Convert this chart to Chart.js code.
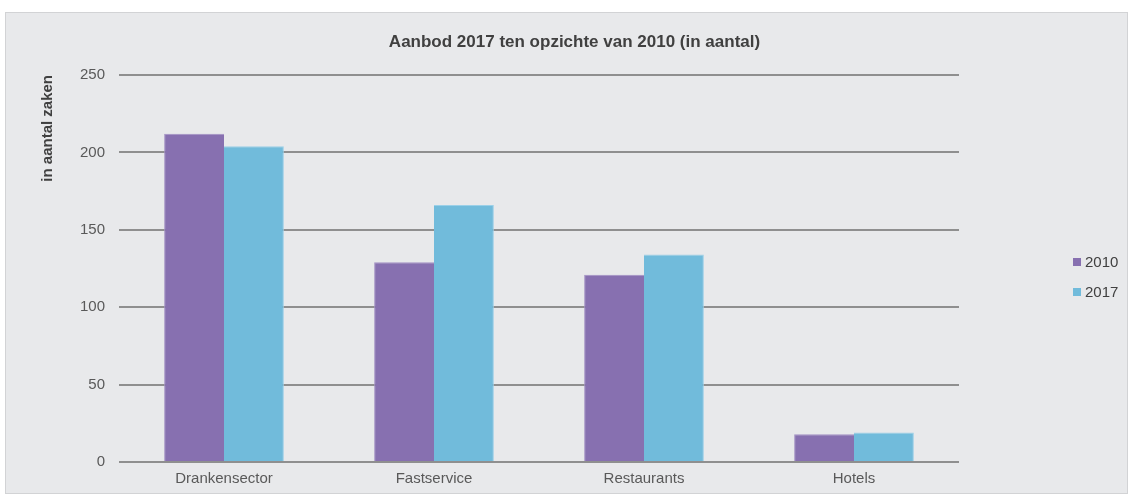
<!DOCTYPE html>
<html>
<head>
<meta charset="utf-8">
<script src="https://cdn.jsdelivr.net/npm/chart.js@4/dist/chart.umd.min.js"></script>
<style>
  html, body { margin: 0; padding: 0; background: #ffffff; }
  body { width: 1128px; height: 494px; position: relative; overflow: hidden; }
  #frame {
    position: absolute; left: 5px; top: 12px; width: 1121px; height: 480px;
    background: #e8e9eb; border: 1px solid #d2d3d5;
  }
  #frame canvas { display: block; }
</style>
</head>
<body>
<div id="frame"><canvas id="chart" width="1121" height="480"></canvas></div>
<script>
// Number of establishments per sector, 2010 vs 2017
const categories = ['Drankensector', 'Fastservice', 'Restaurants', 'Hotels'];
const seriesNames = ['2010', '2017'];
const values2010 = [212, 129, 121, 18];
const values2017 = [204, 166, 134, 19];
const yTicks = [0, 50, 100, 150, 200, 250];
const chartTitle = 'Aanbod 2017 ten opzichte van 2010 (in aantal)';

const FONT = "'Liberation Sans', Arial, Helvetica, sans-serif";

// Title centred over the whole frame, legend stacked at the right
const frameText = {
  id: 'frameText',
  afterDraw(chart) {
    const ctx = chart.ctx;
    const area = chart.chartArea;
    ctx.save();

    ctx.font = 'bold 17px ' + FONT;
    ctx.fillStyle = '#404040';
    ctx.textAlign = 'center';
    ctx.textBaseline = 'middle';
    ctx.fillText(chartTitle, chart.width / 2 + 8, 29);

    const x = chart.width - 54;
    const yMid = (area.top + area.bottom) / 2 + 8.5;
    const gap = 30;
    ctx.font = '15px ' + FONT;
    ctx.textAlign = 'left';
    chart.data.datasets.forEach((ds, i) => {
      const y = yMid + (i - 0.5) * gap;
      ctx.fillStyle = ds.backgroundColor;
      ctx.fillRect(x, y - 4, 8, 8);
      ctx.fillStyle = '#404040';
      ctx.fillText(ds.label, x + 12, y + 1);
    });
    ctx.restore();
  }
};

new Chart(document.getElementById('chart'), {
  type: 'bar',
  data: {
    labels: categories,
    datasets: [
      {
        label: seriesNames[0],
        data: values2010,
        backgroundColor: '#8770b0',
        borderColor: '#a391c4',
        borderWidth: { top: 1, left: 1, right: 0, bottom: 0 },
        borderSkipped: 'bottom'
      },
      {
        label: seriesNames[1],
        data: values2017,
        backgroundColor: '#71bbdb',
        borderColor: '#9bd0e8',
        borderWidth: { top: 1, left: 0, right: 1, bottom: 0 },
        borderSkipped: 'bottom'
      }
    ]
  },
  options: {
    responsive: false,
    animation: false,
    devicePixelRatio: 1,
    layout: { padding: { left: 0, right: 168, top: 62, bottom: 0 } },
    datasets: {
      bar: { categoryPercentage: 0.57, barPercentage: 1.0 }
    },
    plugins: {
      legend: { display: false },
      tooltip: { enabled: false },
      title: { display: false }
    },
    scales: {
      x: {
        grid: { display: false, drawTicks: false },
        border: { display: false },
        ticks: {
          color: '#595959',
          font: { family: FONT, size: 15 },
          padding: 8,
          maxRotation: 0
        },
        afterFit(scale) { scale.height = 31; }
      },
      y: {
        min: 0,
        max: 250,
        afterBuildTicks(scale) { scale.ticks = yTicks.map(v => ({ value: v })); },
        grid: { color: '#8f8f8f', lineWidth: 2, drawTicks: false },
        border: { display: false },
        ticks: {
          color: '#595959',
          font: { family: FONT, size: 15 },
          padding: 14
        },
        title: {
          display: true,
          text: 'in aantal zaken',
          align: 'end',
          color: '#404040',
          font: { family: FONT, size: 15, weight: 'bold' },
          padding: { top: 33, bottom: 0 }
        },
        afterFit(scale) { scale.width = 113; }
      }
    }
  },
  plugins: [frameText]
});
</script>
</body>
</html>
